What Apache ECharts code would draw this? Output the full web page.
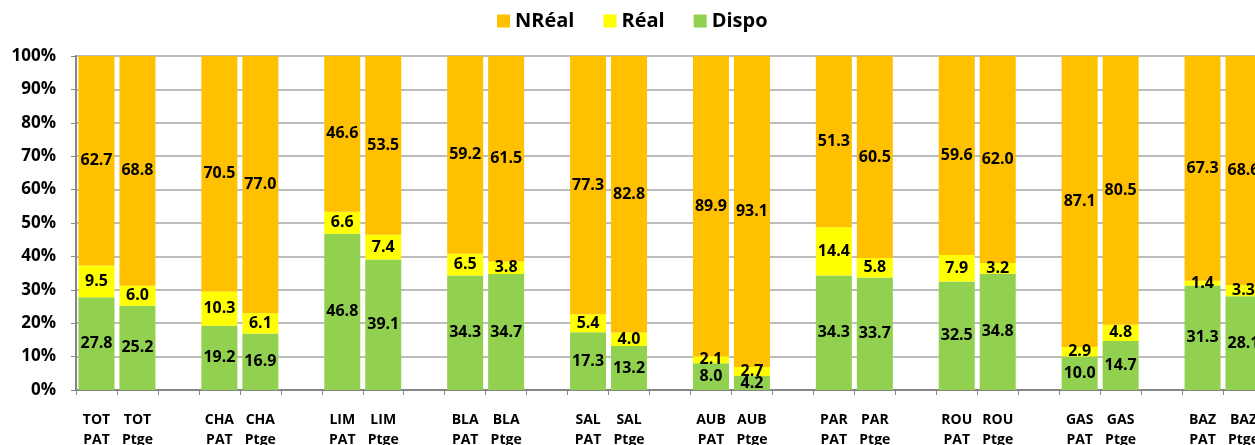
<!DOCTYPE html>
<html>
<head>
<meta charset="utf-8">
<script src="https://cdn.jsdelivr.net/npm/echarts@6/dist/echarts.min.js"></script>
<style>
  html, body { margin: 0; padding: 0; background: #fff; }
  #chart { width: 1255px; height: 445px; }
</style>
</head>
<body>
<div id="chart"></div>
<script>
var groups = ['TOT', 'CHA', 'LIM', 'BLA', 'SAL', 'AUB', 'PAR', 'ROU', 'GAS', 'BAZ']
var kinds = ['PAT', 'Ptge']

// per group: [PAT, Ptge]
var dispo = [[27.8, 25.2], [19.2, 16.9], [46.8, 39.1], [34.3, 34.7], [17.3, 13.2],
             [8.0, 4.2], [34.3, 33.7], [32.5, 34.8], [10.0, 14.7], [31.3, 28.1]]
var real = [[9.5, 6.0], [10.3, 6.1], [6.6, 7.4], [6.5, 3.8], [5.4, 4.0],
            [2.1, 2.7], [14.4, 5.8], [7.9, 3.2], [2.9, 4.8], [1.4, 3.3]]
var nreal = [[62.7, 68.8], [70.5, 77.0], [46.6, 53.5], [59.2, 61.5], [77.3, 82.8],
             [89.9, 93.1], [51.3, 60.5], [59.6, 62.0], [87.1, 80.5], [67.3, 68.6]]

var yTicks = [0, 10, 20, 30, 40, 50, 60, 70, 80, 90, 100]

var font = '"Open Sans", Lato, sans-serif'

// flatten with an empty slot between groups
var categories = []
var dDispo = [], dReal = [], dNreal = []
groups.forEach(function(g, i) {
    kinds.forEach(function(k, j) {
        categories.push(g + '\n' + k)
        dDispo.push(dispo[i][j])
        dReal.push(real[i][j])
        dNreal.push(nreal[i][j])
    })
    if (i < groups.length - 1) {
        categories.push('')
        dDispo.push('-')
        dReal.push('-')
        dNreal.push('-')
    }
})

var labelStyle = {
    show: true,
    position: 'inside',
    color: '#000',
    fontFamily: font,
    fontWeight: 'bold',
    fontSize: 16,
    formatter: function(p) {
        return Number(p.value).toFixed(1)
    }
}

function makeSeries(name, data, color) {
    return {
        name: name,
        type: 'bar',
        stack: 'total',
        barWidth: 36,
        data: data,
        itemStyle: { color: color },
        label: labelStyle
    }
}

var chart = echarts.init(document.getElementById('chart'))

chart.setOption({
    animation: false,
    legend: {
        data: ['NRéal', 'Réal', 'Dispo'],
        left: 492,
        top: 6,
        icon: 'rect',
        itemWidth: 13,
        itemHeight: 13,
        itemGap: 29,
        textStyle: {
            color: '#000',
            fontFamily: font,
            fontWeight: 'bold',
            fontSize: 20
        }
    },
    grid: {
        left: 76,
        width: 1188,
        top: 56,
        bottom: 55,
        containLabel: false,
        outerBoundsMode: 'none'
    },
    xAxis: {
        type: 'category',
        data: categories,
        axisLine: { lineStyle: { color: '#868686', width: 2 } },
        axisTick: { show: true, length: 5, lineStyle: { color: '#868686' } },
        axisLabel: {
            interval: 0,
            margin: 20,
            color: '#000',
            fontFamily: font,
            fontWeight: 'bold',
            fontSize: 14,
            lineHeight: 20
        }
    },
    yAxis: {
        type: 'value',
        min: yTicks[0],
        max: yTicks[yTicks.length - 1],
        interval: 10,
        axisLine: { show: true, lineStyle: { color: '#868686', width: 2 } },
        axisTick: { show: true, length: 5, lineStyle: { color: '#868686' } },
        splitLine: { lineStyle: { color: '#a6a6a6', width: 1.5 } },
        axisLabel: {
            margin: 20,
            color: '#000',
            fontFamily: font,
            fontWeight: 'bold',
            fontSize: 17,
            formatter: '{value}%'
        }
    },
    series: [
        makeSeries('Dispo', dDispo, '#92D050'),
        makeSeries('Réal', dReal, '#FFFF00'),
        makeSeries('NRéal', dNreal, '#FFC000')
    ]
})
</script>
</body>
</html>
